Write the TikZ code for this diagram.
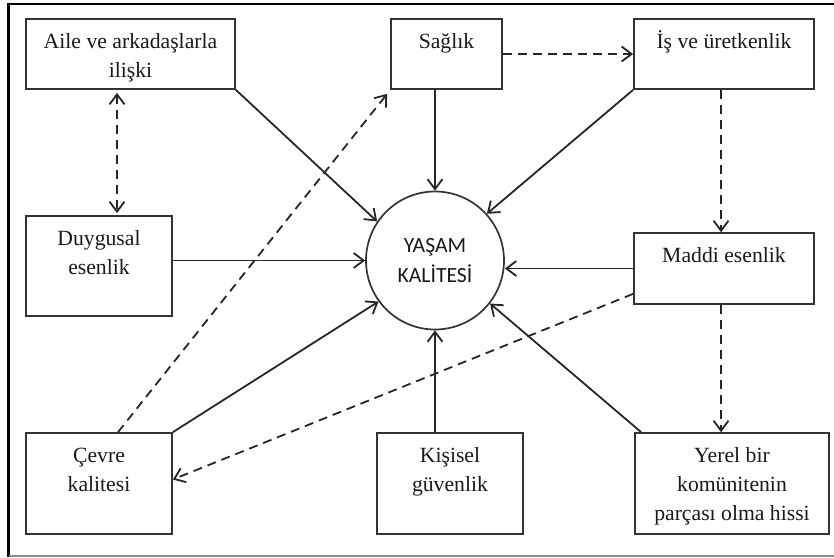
\documentclass[tikz,border=0pt]{standalone}
\usepackage{fontspec}
\setmainfont{Liberation Serif}
\newfontfamily\calfont{Carlito}
\usetikzlibrary{arrows.meta}
\newcommand{\boxtxt}[3]{\parbox[c][#2][t]{#1}{\centering\rule{0pt}{29pt}#3}}
\tikzset{
  box/.style={draw=black!80, inner sep=0pt, line width=1.7pt, text=black!90},
  link/.style={line width=1.8pt, draw=black!85},
  dlink/.style={link, dash pattern=on 9pt off 6pt}
}
\begin{document}
\begin{tikzpicture}[x=1pt,y=-1pt,font=\fontsize{21.7}{29}\selectfont,
  >={Straight Barb[length=10pt,width=15pt]}]
\useasboundingbox (0,0) rectangle (834,557);
% frame
\draw[line width=2.8pt] (8.5,557) -- (8.5,4) -- (834,4);
\draw[line width=1.5pt, black!45] (8.5,556) -- (834,556);
% boxes
\node[box] (aile) at (130.5,54) {\boxtxt{209pt}{70pt}{Aile ve arkadaşlarla\\ilişki}};
\node[box] (saglik) at (446.5,54) {\boxtxt{111pt}{70pt}{Sağlık}};
\node[box] (is) at (724,54) {\boxtxt{180pt}{70pt}{İş ve üretkenlik}};
\node[box] (duygu) at (99,266) {\boxtxt{146pt}{100pt}{Duygusal\\esenlik}};
\node[box] (maddi) at (724,268.5) {\boxtxt{180pt}{71pt}{Maddi esenlik}};
\node[box] (cevre) at (99,483.5) {\boxtxt{146pt}{101pt}{Çevre\\kalitesi}};
\node[box] (kisi) at (450,483.5) {\boxtxt{146pt}{101pt}{Kişisel\\güvenlik}};
\node[box] (yerel) at (732,483.5) {\boxtxt{194pt}{101pt}{Yerel bir\\komünitenin\\parçası olma hissi}};
\node[draw=black!80, circle, line width=1.7pt, minimum size=138pt, inner sep=0pt,
  align=center, text=black!90, font=\calfont\fontsize{21.7}{30}\selectfont] (yasam) at (435,260.5) {YAŞAM\\KALİTESİ};
% solid links
\path[draw,link,->] (aile.south east) -- (yasam.146);
\path[draw,link,->] (duygu.east |- yasam) -- (yasam.west);
\path[draw,link,->] (saglik.south -| yasam) -- (yasam.north);
\path[draw,link,->] (is.south west) -- (yasam.42);
\path[draw,link,->] (maddi.west) -- (maddi.west -| yasam.east);
\path[draw,link,->] (cevre.north east) -- (yasam.216);
\path[draw,link,->] (kisi.north -| yasam) -- (yasam.south);
\path[draw,link,->] ([xshift=7pt]yerel.north west) -- (yasam.-38);
% dashed links
\path[draw,dlink,<->] ([xshift=-13.5pt,yshift=-3pt]aile.south) -- ([xshift=18pt,yshift=2pt]duygu.north);
\path[draw,dlink,->] (saglik.east) -- (is.west);
\path[draw,dlink,->] ([xshift=-3pt]is.south) -- ([xshift=-3pt]maddi.north);
\path[draw,dlink,->] ([xshift=-3pt]maddi.south) -- ([xshift=-3pt]maddi.south |- yerel.north);
\path[draw,dlink,->] ([yshift=11pt]maddi.south west) -- ([yshift=4pt]cevre.east);
\path[draw,dlink,->] ([xshift=19pt]cevre.north) -- ([xshift=-3pt,yshift=-4pt]saglik.south west);
\end{tikzpicture}
\end{document}
